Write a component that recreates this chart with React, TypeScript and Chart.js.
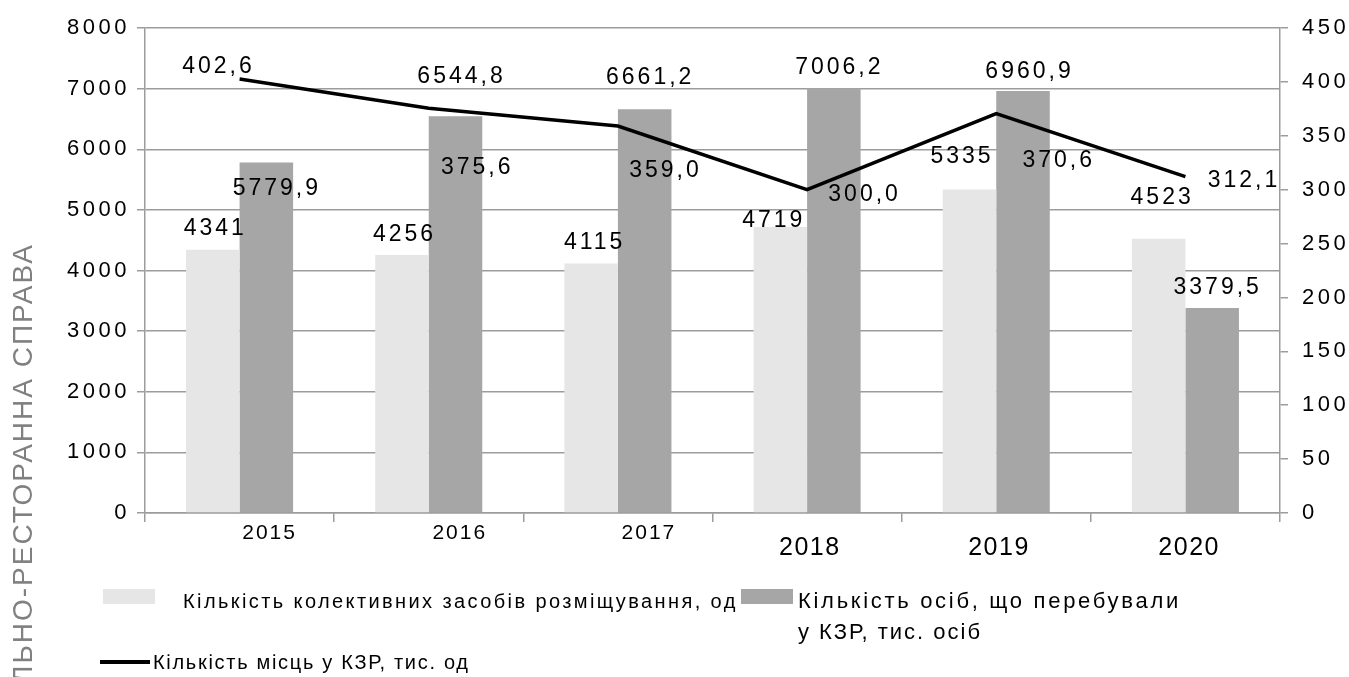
import React, { useEffect, useRef } from "react";
import { Chart, registerables } from "chart.js";

Chart.register(...registerables);

// ---------- data ----------
const years = ["2015", "2016", "2017", "2018", "2019", "2020"];
const facilities = [4341, 4256, 4115, 4719, 5335, 4523];
const persons = [5779.9, 6544.8, 6661.2, 7006.2, 6960.9, 3379.5];
const places = [402.6, 375.6, 359.0, 300.0, 370.6, 312.1];

const facilitiesLabel = "Кількість колективних засобів розміщування, од";
const personsLabelLine1 = "Кількість осіб, що перебували";
const personsLabelLine2 = "у КЗР, тис. осіб";
const placesLabel = "Кількість місць у КЗР, тис. од";
const sideText = "ЛЬНО-РЕСТОРАННА СПРАВА";

const leftMin = 0;
const leftMax = 8000;
const leftStep = 1000;
const rightMin = 0;
const rightMax = 450;
const rightStep = 50;

// ---------- label placement (relative to each mark) ----------
const facilitiesLabelOffsets = [[1, -23], [1, -22], [2, -23], [-8, -8.5], [-9, -35], [2, -43]];
const personsLabelOffsets = [[9, 24], [4.5, -41], [4, -33], [4, -22], [5, -21], [4, -22]];
const placesLabelOffsets = [[-22.6, -14.6], [47, 58], [46, 43], [56, 3], [61, 45], [57, 2.5]];
const yearDx = [29, 30, 30, 2, 2, 3];
const yearDy = [18, 18, 18, 33, 33, 33];
const yearSize = [21, 21, 21, 25, 25, 25];
const yearSpacing = [2, 2, 2, 1.5, 1.5, 1.5];

const FONT = '"Liberation Sans", Arial, sans-serif';
const GRID = "#9c9c9c";
const LIGHT = "#e6e6e6";
const DARK = "#a6a6a6";

const fmtInt = (v: number) => v.toFixed(0);
const fmtDec = (v: number) => v.toFixed(1).replace(".", ",");

const labelPlugin = {
  id: "valueLabels",
  beforeDraw(chart: any) {
    chart.ctx.letterSpacing = "3.5px";
  },
  afterDraw(chart: any) {
    chart.ctx.letterSpacing = "0px";
  },
  afterDatasetsDraw(chart: any) {
    const ctx = chart.ctx as CanvasRenderingContext2D;
    ctx.save();
    const size = 23;
    ctx.font = `${size}px ${FONT}`;
    (ctx as any).letterSpacing = "3px";
    ctx.fillStyle = "#000";
    ctx.textAlign = "center";
    ctx.textBaseline = "alphabetic";
    const sets = [
      { offsets: facilitiesLabelOffsets, fmt: fmtInt },
      { offsets: personsLabelOffsets, fmt: fmtDec },
      { offsets: placesLabelOffsets, fmt: fmtDec },
    ];
    chart.data.datasets.forEach((ds: any, di: number) => {
      const meta = chart.getDatasetMeta(di);
      const s = sets[di];
      meta.data.forEach((el: any, i: number) => {
        const [dx, dy] = s.offsets[i];
        ctx.fillText(s.fmt(ds.data[i]), el.x + dx + 1.5, el.y + dy + size * 0.358);
      });
    });
    // category labels
    const xs = chart.scales.x;
    const bottom = chart.chartArea.bottom;
    years.forEach((yr, i) => {
      const fs = yearSize[i];
      ctx.font = `${fs}px ${FONT}`;
      (ctx as any).letterSpacing = `${yearSpacing[i]}px`;
      ctx.fillText(yr, xs.getPixelForValue(i) + yearDx[i] + yearSpacing[i] / 2, bottom + yearDy[i] + fs * 0.358);
    });
    ctx.restore();
  },
};

export default function App() {
  const ref = useRef<HTMLCanvasElement>(null);

  useEffect(() => {
    if (!ref.current) return;
    const chart = new Chart(ref.current, {
      type: "bar",
      data: {
        labels: years,
        datasets: [
          {
            type: "bar",
            label: facilitiesLabel,
            data: facilities,
            backgroundColor: LIGHT,
            yAxisID: "y",
            order: 1,
            categoryPercentage: 0.566,
            barPercentage: 1,
          },
          {
            type: "bar",
            label: personsLabelLine1 + " " + personsLabelLine2,
            data: persons,
            backgroundColor: DARK,
            yAxisID: "y",
            order: 1,
            categoryPercentage: 0.566,
            barPercentage: 1,
          },
          {
            type: "line",
            label: placesLabel,
            data: places,
            yAxisID: "y1",
            borderColor: "#000",
            borderWidth: 3.5,
            pointRadius: 0,
            fill: false,
            tension: 0,
            order: 0,
          } as any,
        ],
      },
      options: {
        responsive: false,
        animation: false,
        devicePixelRatio: 1,
        layout: { padding: { top: 28, bottom: 144, left: 0, right: 0 } },
        plugins: { legend: { display: false }, tooltip: { enabled: false } },
        scales: {
          x: {
            grid: { offset: true, drawOnChartArea: false, drawTicks: true, tickLength: 9, color: GRID, lineWidth: 1.5 },
            border: { display: true, color: GRID, width: 1.5 },
            ticks: { display: false },
            afterFit(s: any) {
              s.height = 20;
            },
          },
          y: {
            position: "left",
            min: leftMin,
            max: leftMax,
            ticks: {
              stepSize: leftStep,
              font: { size: 22, family: FONT },
              color: "#000",
              padding: 7,
              callback: (v: any) => String(v),
            },
            grid: { color: GRID, lineWidth: 1.5, tickLength: 8 },
            border: { display: true, color: GRID, width: 1.5 },
            afterFit(s: any) {
              s.width = 145;
            },
          },
          y1: {
            position: "right",
            min: rightMin,
            max: rightMax,
            ticks: {
              stepSize: rightStep,
              font: { size: 22, family: FONT },
              color: "#000",
              padding: 14,
              callback: (v: any) => String(v),
            },
            grid: { drawOnChartArea: false, color: GRID, lineWidth: 1.5, tickLength: 8 },
            border: { display: true, color: GRID, width: 1.5 },
            afterFit(s: any) {
              s.width = 69;
            },
          },
        },
      },
      plugins: [labelPlugin],
    });
    return () => chart.destroy();
  }, []);

  const text: React.CSSProperties = {
    position: "absolute",
    fontFamily: FONT,
    color: "#000",
    whiteSpace: "nowrap",
    lineHeight: "24px",
  };

  return (
    <div
      style={{
        position: "absolute",
        left: 0,
        top: 0,
        width: 1349,
        height: 677,
        overflow: "hidden",
        background: "#fff",
      }}
    >
      <canvas ref={ref} width={1349} height={677} style={{ display: "block", position: "absolute", left: 0, top: 0 }} />
      <div
        style={{
          position: "absolute",
          left: 9,
          top: 684,
          transformOrigin: "left top",
          transform: "rotate(-90deg)",
          fontFamily: FONT,
          fontSize: 28,
          lineHeight: "28px",
          letterSpacing: "2px",
          color: "#808080",
          whiteSpace: "nowrap",
        }}
      >
        {sideText}
      </div>
      <div style={{ position: "absolute", left: 103, top: 589, width: 52, height: 15, background: LIGHT }} />
      <div style={{ ...text, left: 183, top: 589, fontSize: 20, letterSpacing: "2.4px" }}>{facilitiesLabel}</div>
      <div style={{ position: "absolute", left: 741, top: 589, width: 52, height: 15, background: DARK }} />
      <div style={{ ...text, left: 798, top: 589, fontSize: 22, letterSpacing: "2.7px" }}>{personsLabelLine1}</div>
      <div style={{ ...text, left: 798, top: 620, fontSize: 22, letterSpacing: "2px" }}>{personsLabelLine2}</div>
      <div style={{ position: "absolute", left: 100, top: 660, width: 50, height: 3.5, background: "#000" }} />
      <div style={{ ...text, left: 153, top: 650, fontSize: 20, letterSpacing: "1.7px" }}>{placesLabel}</div>
    </div>
  );
}
